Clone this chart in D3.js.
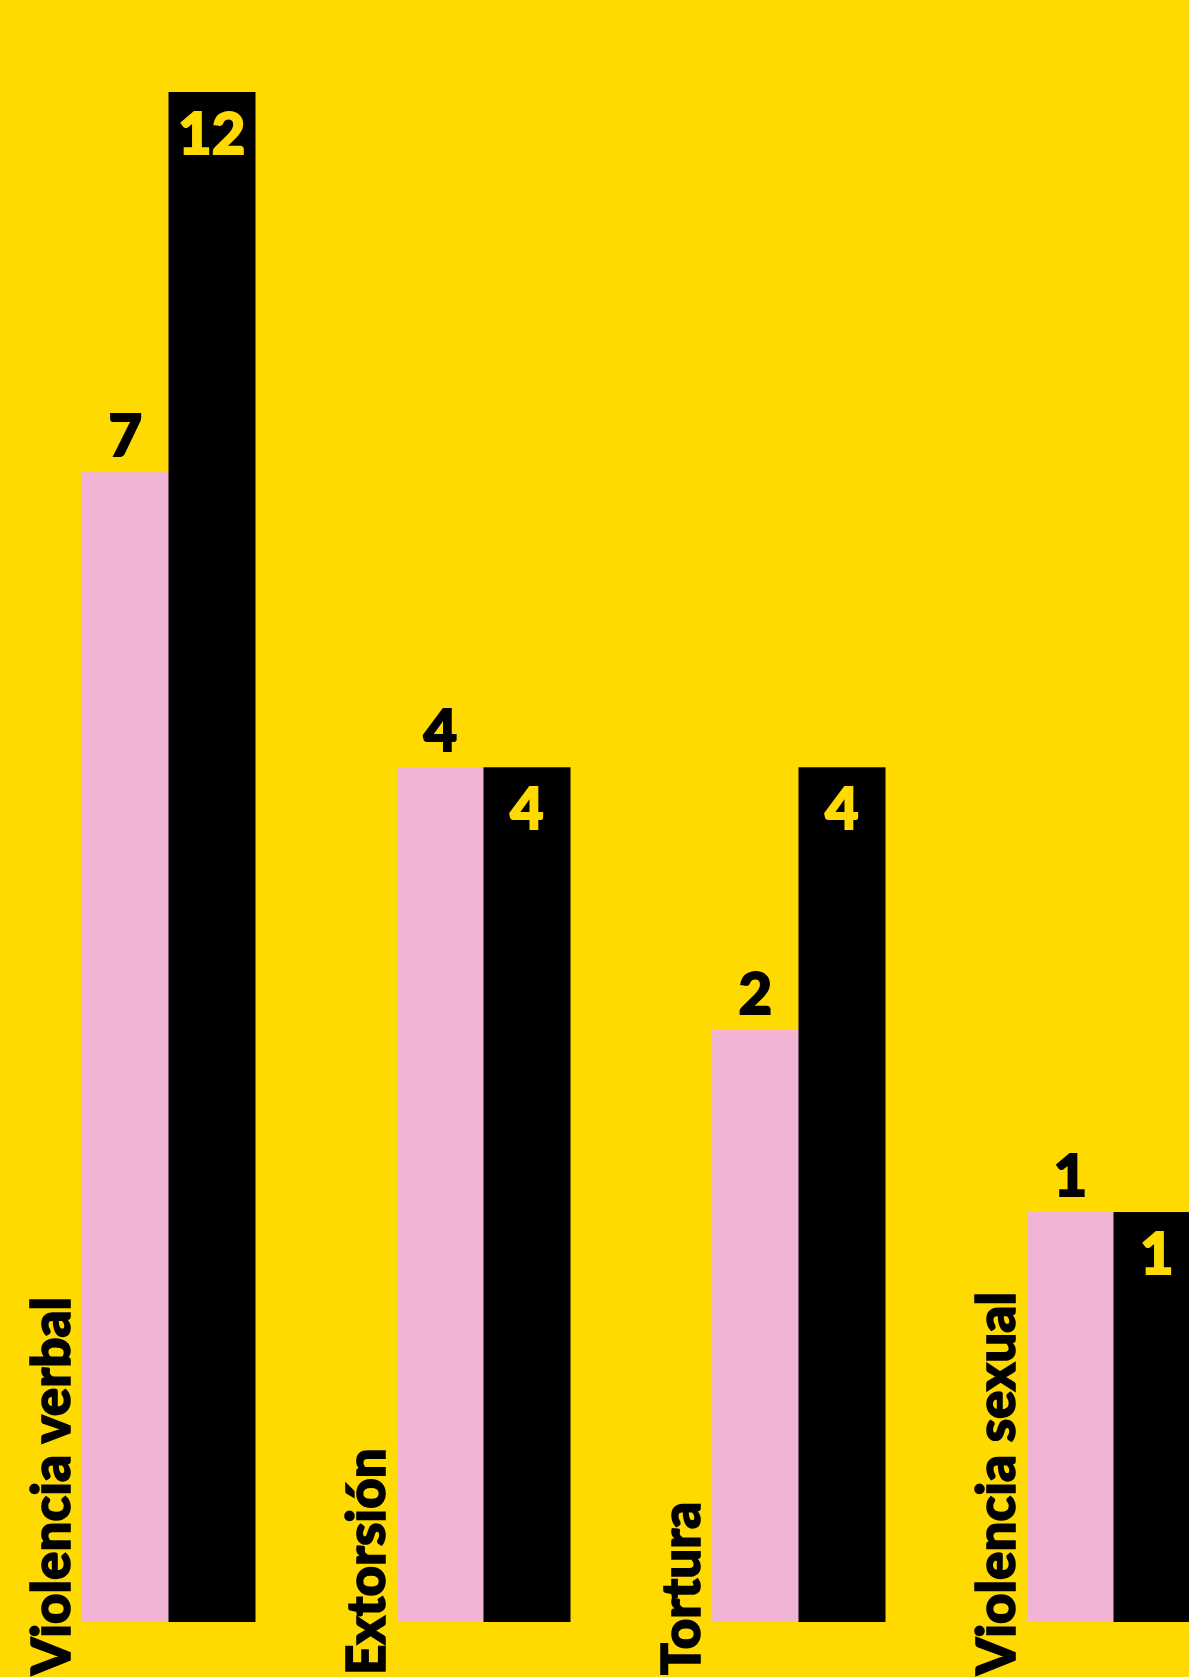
<!DOCTYPE html>
<html>
<head>
<meta charset="utf-8">
<script src="https://cdn.jsdelivr.net/npm/d3@7"></script>
<style>
  body { margin: 0; background: #FEDA00; }
  svg { display: block; }
  .cat { font-family: Lato, "Open Sans", sans-serif; font-weight: 900; fill: #000; stroke: #000; stroke-width: 1.6px; }
  .val { font-family: Lato, "Open Sans", sans-serif; font-weight: 900; stroke-width: 1.8px; }
</style>
</head>
<body>
<script>
/*
DATA
*/
const categories = ["Violencia verbal", "Extorsión", "Tortura", "Violencia sexual"]
const seriesNames = ["rosa", "negro"]
const pinkValues = [7, 4, 2, 1]
const blackValues = [12, 4, 4, 1]

/*
SET UP
*/
const w = 1189
const h = 1677
const baseY = 1622
const colors = { rosa: "#F2B4D4", negro: "#000000" }

const svg = d3.select("body")
  .append("svg")
  .attr("width", w)
  .attr("height", h);

svg.append("rect")
  .attr("width", w)
  .attr("height", h)
  .attr("fill", "#FEDA00");

/*
SCALES
*/
let x0 = d3.scaleBand()
  .domain(categories)
  .range([82, 1200])
  .paddingInner(0.4508)
  .paddingOuter(0);

let x1 = d3.scaleBand()
  .domain(seriesNames)
  .range([0, x0.bandwidth()]);

// bars in the original grow roughly with a power of the count
let y = d3.scalePow()
  .exponent(0.53)
  .domain([0, 12])
  .range([baseY, baseY - 1530]);

const rows = categories.map((c, i) => ({
  cat: c,
  vals: [
    { key: "rosa", v: pinkValues[i] },
    { key: "negro", v: blackValues[i] }
  ]
}));

/*
BARS
*/
const groups = svg.selectAll(".group")
  .data(rows)
  .join("g")
  .attr("class", "group")
  .attr("transform", (d) => `translate(${x0(d.cat)},0)`);

groups.selectAll("rect")
  .data((d) => d.vals)
  .join("rect")
  .attr("x", (d) => x1(d.key))
  .attr("y", (d) => y(d.v))
  .attr("width", x1.bandwidth() + 0.5)
  .attr("height", (d) => baseY - y(d.v))
  .attr("fill", (d) => colors[d.key]);

// value labels: pink above the bar, black inside the bar
groups.selectAll(".val")
  .data((d) => d.vals)
  .join("text")
  .attr("class", "val")
  .attr("x", (d) => x1(d.key) + x1.bandwidth() / 2)
  .attr("y", (d) => d.key === "rosa" ? y(d.v) - 16 : y(d.v) + 62)
  .attr("text-anchor", "middle")
  .attr("font-size", 58)
  .attr("fill", (d) => d.key === "rosa" ? "#000" : "#FEDA00")
  .attr("stroke", (d) => d.key === "rosa" ? "#000" : "#FEDA00")
  .text((d) => d.v);

/*
CATEGORY LABELS
*/
svg.selectAll(".cat")
  .data(categories)
  .join("text")
  .attr("class", "cat")
  .attr("transform", (d) => `translate(${x0(d) - 12},1675) rotate(-90)`)
  .attr("font-size", 53)
  .text((d) => d);
</script>
</body>
</html>
